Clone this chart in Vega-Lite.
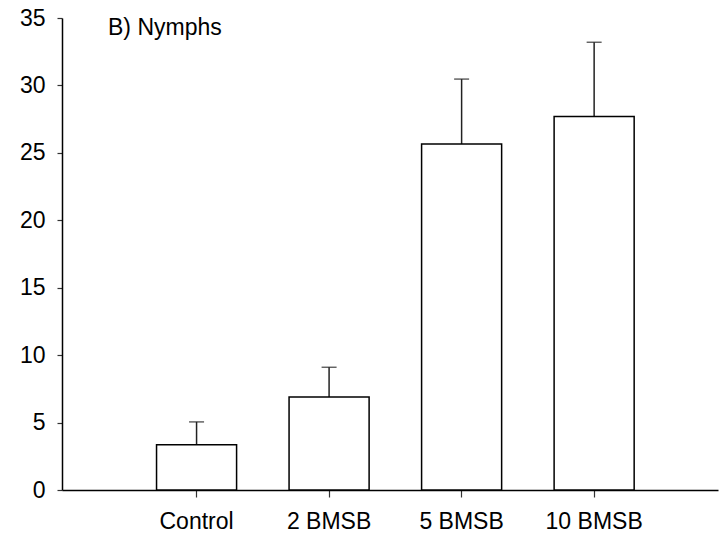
{
  "$schema": "https://vega.github.io/schema/vega-lite/v6.json",
  "width": 656,
  "height": 472,
  "autosize": {"type": "none"},
  "padding": {"left": 62, "top": 18, "right": 2, "bottom": 49},
  "background": "white",
  "title": {
    "text": "B) Nymphs",
    "anchor": "start",
    "frame": "group",
    "orient": "top",
    "baseline": "alphabetic",
    "offset": 0,
    "dx": 46,
    "dy": 51,
    "font": "Liberation Sans",
    "fontSize": 23,
    "fontWeight": "normal",
    "color": "black"
  },
  "config": {
    "view": {"stroke": null},
    "axis": {"grid": false, "labelFont": "Liberation Sans", "labelFontSize": 23, "labelColor": "black", "domainColor": "black", "domainWidth": 1.5, "tickColor": "#333333", "tickWidth": 1.2, "tickSize": 6, "titleFontSize": 0}
  },
  "data": {
    "values": [
      {"group": "Control", "mean": 3.35, "upper": 5.05},
      {"group": "2 BMSB", "mean": 6.9, "upper": 9.1},
      {"group": "5 BMSB", "mean": 25.65, "upper": 30.47},
      {"group": "10 BMSB", "mean": 27.7, "upper": 33.2}
    ]
  },
  "encoding": {
    "x": {
      "field": "group",
      "type": "nominal",
      "sort": ["Control", "2 BMSB", "5 BMSB", "10 BMSB"],
      "scale": {"paddingInner": 0.396, "paddingOuter": 0.673, "align": 0.53},
      "axis": {"title": null, "labelAngle": 0, "labelPadding": 13, "tickSize": 7}
    }
  },
  "layer": [
    {
      "mark": {"type": "rule", "color": "#222222", "strokeWidth": 1.5},
      "encoding": {
        "y": {"field": "mean", "type": "quantitative"},
        "y2": {"field": "upper"}
      }
    },
    {
      "mark": {"type": "tick", "orient": "horizontal", "size": 15, "thickness": 1.5, "color": "#222222"},
      "encoding": {
        "y": {"field": "upper", "type": "quantitative"}
      }
    },
    {
      "mark": {"type": "bar", "fill": "white", "stroke": "black", "strokeWidth": 1.5},
      "encoding": {
        "y": {
          "field": "mean",
          "type": "quantitative",
          "scale": {"domain": [0, 35], "nice": false},
          "axis": {"title": null, "values": [0, 5, 10, 15, 20, 25, 30, 35], "labelPadding": 12, "tickSize": 5}
        }
      }
    }
  ]
}
